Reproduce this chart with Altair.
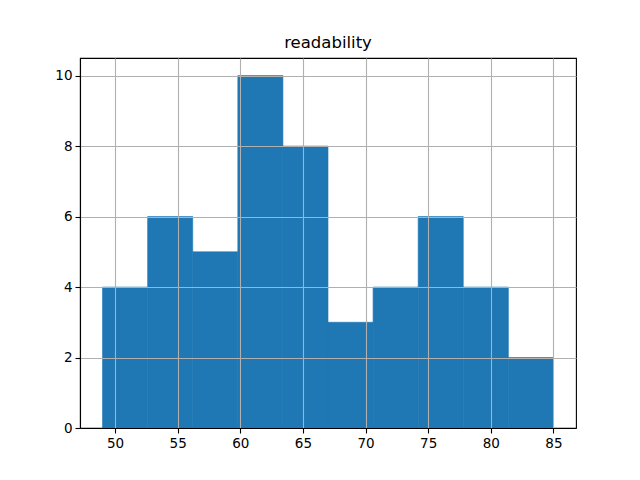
import altair as alt
import pandas as pd

bin_start = [49.0, 52.6, 56.2, 59.8, 63.4, 67.0, 70.6, 74.2, 77.8, 81.4]
bin_end = [52.6, 56.2, 59.8, 63.4, 67.0, 70.6, 74.2, 77.8, 81.4, 85.0]
counts = [4, 6, 5, 10, 8, 3, 4, 6, 4, 2]
x_ticks = [50, 55, 60, 65, 70, 75, 80, 85]
y_ticks = [0, 2, 4, 6, 8, 10]

df = pd.DataFrame({"start": bin_start, "end": bin_end, "count": counts})

font = "DejaVu Sans"

chart = alt.Chart(df).mark_rect(color="#1f77b4", stroke="#1f77b4", strokeWidth=0.6).encode(
    x=alt.X("start:Q", scale=alt.Scale(domain=[47.2, 86.8], nice=False, zero=False),
            axis=alt.Axis(values=x_ticks, title=None, zindex=1, grid=True,
                          gridColor="#b0b0b0", gridWidth=1.1, domainColor="black",
                          tickColor="black", tickSize=5, labelFontSize=13.5,
                          labelColor="black", labelFont=font, labelPadding=3,
                          domainWidth=1.1, tickWidth=1.1)),
    x2="end:Q",
    y=alt.Y("count:Q", scale=alt.Scale(domain=[0, 10.5], nice=False),
            axis=alt.Axis(values=y_ticks, title=None, zindex=1, grid=True,
                          gridColor="#b0b0b0", gridWidth=1.1, domainColor="black",
                          tickColor="black", tickSize=5, labelFontSize=13.5,
                          labelColor="black", labelFont=font, labelPadding=3,
                          domainWidth=1.1, tickWidth=1.1)),
    y2=alt.datum(0),
).properties(
    width=496,
    height=370,
    title=alt.TitleParams("readability", fontSize=16.5, font=font, fontWeight="normal",
                          color="black", offset=7, anchor="middle"),
    autosize=alt.AutoSizeParams(type="none"),
    padding={"left": 72, "top": 50, "right": 50, "bottom": 40},
).configure_view(stroke="black", strokeWidth=1.1)

chart.save("out.html", embed_options={"renderer": "svg", "actions": False})
